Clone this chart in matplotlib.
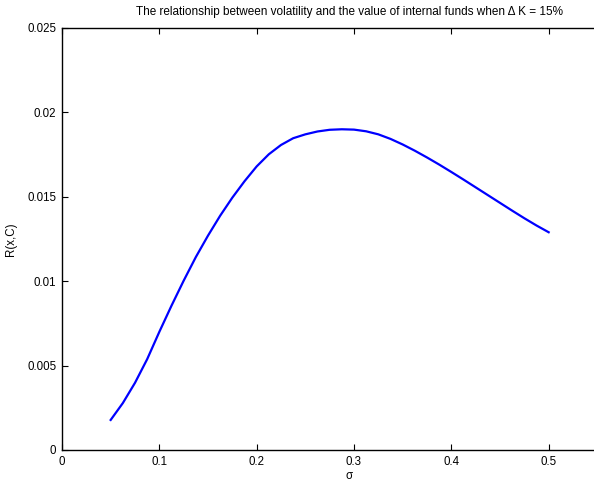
import numpy as np
import matplotlib.pyplot as plt

plt.rcParams['font.family'] = ['Liberation Sans', 'DejaVu Sans']

# values
sigma = [0.05, 0.0625, 0.075, 0.0875, 0.1, 0.1125, 0.125, 0.1375, 0.15,
         0.1625, 0.175, 0.1875, 0.2, 0.2125, 0.225, 0.2375, 0.25, 0.2625,
         0.275, 0.2875, 0.3, 0.3125, 0.325, 0.3375, 0.35, 0.3625, 0.375,
         0.3875, 0.4, 0.4125, 0.425, 0.4375, 0.45, 0.4625, 0.475, 0.4875, 0.5]
r_xc = [0.00178, 0.00278, 0.00398, 0.00538, 0.0070, 0.00855, 0.01003, 0.01143,
        0.0127, 0.01388, 0.01495, 0.01592, 0.0168, 0.01752, 0.01807, 0.01847,
        0.0187, 0.01887, 0.01897, 0.0190, 0.01898, 0.01888, 0.0187, 0.01843,
        0.0181, 0.01773, 0.01733, 0.01691, 0.01647, 0.01602, 0.01556, 0.0151,
        0.01464, 0.01418, 0.01373, 0.0133, 0.0129]

xticks = [0, 0.1, 0.2, 0.3, 0.4, 0.5]
yticks = [0, 0.005, 0.01, 0.015, 0.02, 0.025]

fig = plt.figure(figsize=(5.94, 4.83), dpi=100)
# axes run past the right border of the picture, as in the reference
ax = fig.add_axes([62 / 594, 33 / 483, 584 / 594, 422 / 483])

ax.plot(sigma, r_xc, color='#0000ff', linewidth=1.6, solid_joinstyle='round')

ax.set_xlim(0, 0.6)
ax.set_ylim(0, 0.025)
ax.set_xticks(xticks)
ax.set_xticklabels(['0', '0.1', '0.2', '0.3', '0.4', '0.5'])
ax.set_yticks(yticks)
ax.set_yticklabels(['0', '0.005', '0.01', '0.015', '0.02', '0.025'])
ax.tick_params(direction='in', top=True, right=True, length=4.5,
               width=0.8, labelsize=8.3, pad=4)
for s in ax.spines.values():
    s.set_linewidth(1.0)

ax.set_xlabel('σ', fontsize=8.3)
ax.set_ylabel('R(x,C)', fontsize=8.3)
ax.xaxis.set_label_coords((349 - 62) / 584, -20 / 422)
ax.yaxis.set_label_coords(-45 / 584, 0.5)
ax.set_title('The relationship between volatility and the value of internal funds when Δ K = 15%',
             fontsize=8.5, x=(349 - 62) / 584, pad=9)

fig.savefig('out.png', dpi=100)
